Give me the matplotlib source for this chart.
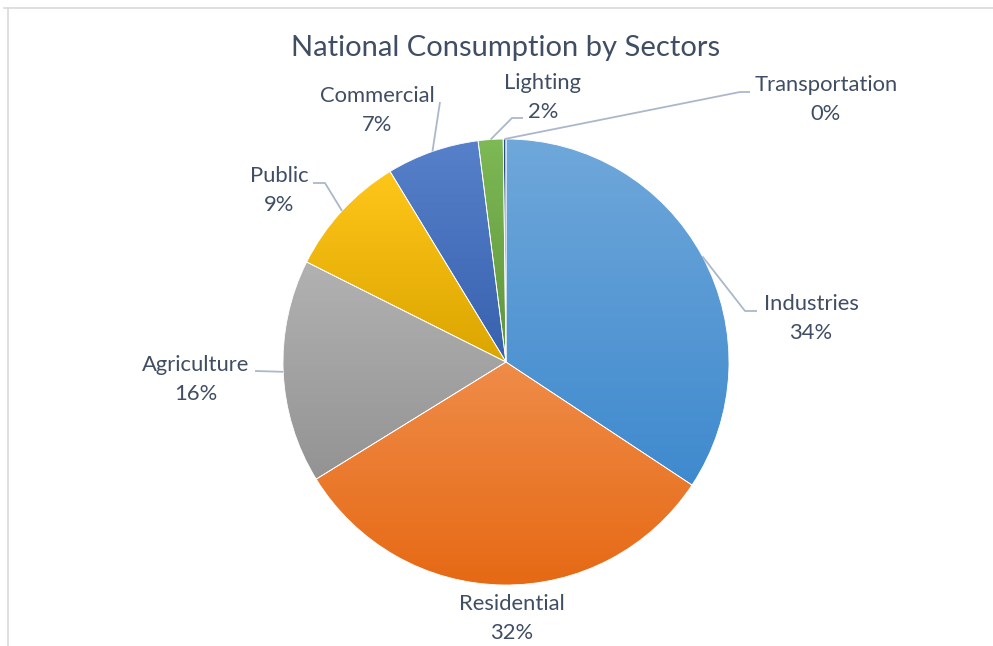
import colorsys
import numpy as np
import matplotlib.pyplot as plt
from matplotlib.colors import to_rgb
from matplotlib.lines import Line2D

# Share of national electricity consumption by sector (%)
sectors = ["Industries", "Residential", "Agriculture", "Public",
           "Commercial", "Lighting", "Transportation"]
shares = [34.3, 31.9, 16.2, 8.9, 6.7, 1.8, 0.2]
base_colors = ["#5B9BD5", "#ED7D31", "#A5A5A5", "#FFC000",
               "#4472C4", "#70AD47", "#264478"]

title = "National Consumption by Sectors"

# Canvas geometry (pixels)
W, H, DPI = 993, 646, 100
CX, CY, R = 506, 362, 223          # pie centre and radius

# Label placement (pixels): centre of the name line
label_pos = {
    "Industries": (811, 304),
    "Residential": (512, 604),
    "Agriculture": (196, 365),
    "Public": (279, 176),
    "Commercial": (377, 96),
    "Lighting": (543, 83),
    "Transportation": (826, 85),
}
# Leader-line elbows (pixels) after leaving the wedge edge
leader_pts = {
    "Industries": [(745, 311), (757, 311)],
    "Residential": [],
    "Agriculture": [(255, 371)],
    "Public": [(325, 183), (313, 183)],
    "Commercial": [(440, 102)],
    "Lighting": [(512, 118), (523, 118)],
    "Transportation": [(740, 92), (750, 92)],
}
LINE_GAP = 29
TEXT_COLOR = "#404E64"
LEADER_COLOR = "#ABB8CA"
FONT = ["Lato", "DejaVu Sans"]
LABEL_SIZE = 15.8
TITLE_SIZE = 21.0


def px(x, y):
    """Pixel position -> data coordinates (pie radius = 1)."""
    return (x - CX) / R, (CY - y) / R


def shade(color, dl):
    """Shift HLS lightness of a colour, keeping hue and saturation."""
    h, l, s = colorsys.rgb_to_hls(*to_rgb(color))
    return np.array(colorsys.hls_to_rgb(h, min(max(l + dl, 0), 1), s))


fig = plt.figure(figsize=(W / DPI, H / DPI), dpi=DPI)
fig.patch.set_facecolor("white")
ax = fig.add_axes([0, 0, 1, 1])

wedges, _ = ax.pie(shares, startangle=90, counterclock=False, radius=1,
                   colors=base_colors,
                   wedgeprops=dict(linewidth=0.6, edgecolor="white", zorder=2))

# Vertical gradient fill per wedge, lighter at the top
t = np.linspace(0, 1, 256)[:, None]
for w, c in zip(wedges, base_colors):
    verts = w.get_path().vertices
    x0, y0 = verts.min(axis=0)
    x1, y1 = verts.max(axis=0)
    top = shade(c, 0.05)
    bot = shade(c, -0.07)
    grad = top * (1 - t) + bot * t
    img = ax.imshow(grad[:, None, :], extent=(x0, x1, y0, y1), origin="upper",
                    aspect="auto", interpolation="bilinear", zorder=1)
    img.set_clip_path(w)
    w.set_facecolor("none")

# Labels with leader lines
for w, name, val in zip(wedges, sectors, shares):
    mid = np.deg2rad((w.theta1 + w.theta2) / 2)
    ex, ey = np.cos(mid) * w.r, np.sin(mid) * w.r
    pts = [px(*p) for p in leader_pts[name]]
    if pts:
        xs = [ex] + [p[0] for p in pts]
        ys = [ey] + [p[1] for p in pts]
        ax.plot(xs, ys, color=LEADER_COLOR, lw=1.3, zorder=3,
                solid_capstyle="butt")
    lx, ly = label_pos[name]
    ax.text(*px(lx, ly), name, ha="center", va="center", fontsize=LABEL_SIZE,
            color=TEXT_COLOR, family=FONT)
    ax.text(*px(lx, ly + LINE_GAP), f"{round(val):.0f}%", ha="center",
            va="center", fontsize=LABEL_SIZE, color=TEXT_COLOR, family=FONT)

ax.text(*px(506, 48), title, ha="center", va="center", fontsize=TITLE_SIZE,
        color=TEXT_COLOR, family=FONT)

ax.set_aspect("equal")
ax.set_xlim(-CX / R, (W - CX) / R)
ax.set_ylim(-(H - CY) / R, CY / R)
ax.axis("off")

# Chart-area border (top and left edges)
fig.add_artist(Line2D([4 / W, 1], [1 - 8 / H, 1 - 8 / H], color="#D9D9D9",
                      lw=1.2, transform=fig.transFigure))
fig.add_artist(Line2D([8 / W, 8 / W], [0, 1 - 8 / H], color="#D9D9D9",
                      lw=1.2, transform=fig.transFigure))

fig.savefig("out.png", dpi=DPI, facecolor="white")
